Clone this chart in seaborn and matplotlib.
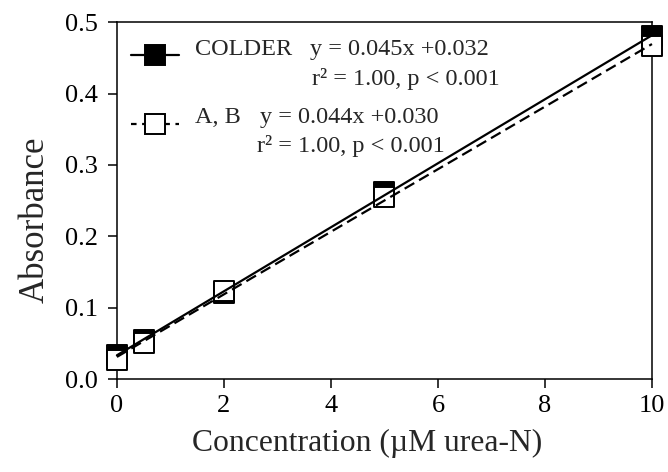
import numpy as np
import pandas as pd
import seaborn as sns
import matplotlib.pyplot as plt
from matplotlib.lines import Line2D

# data
conc = [0, 0.5, 2, 5, 10]
colder = [0.034, 0.055, 0.120, 0.262, 0.480]
ab = [0.027, 0.050, 0.124, 0.255, 0.466]
series_names = ["COLDER", "A, B"]
equations = ["y = 0.045x +0.032", "y = 0.044x +0.030"]
stats_text = "r\u00b2 = 1.00, p < 0.001"
xticks = [0, 2, 4, 6, 8, 10]
yticks = [0.0, 0.1, 0.2, 0.3, 0.4, 0.5]

sns.set_style("ticks")
plt.rcParams["font.family"] = ["Liberation Serif", "DejaVu Serif"]

fig = plt.figure(figsize=(6.68, 4.72), dpi=100)
ax = fig.add_axes([0.175, 0.197, 0.801, 0.756])

df = pd.DataFrame({"conc": conc, "colder": colder, "ab": ab})

sns.scatterplot(data=df, x="conc", y="colder", marker="s", s=225, color="black",
                edgecolor="black", linewidth=1.4, clip_on=False, zorder=3, ax=ax)
sns.scatterplot(data=df, x="conc", y="ab", marker="s", s=225, color="white",
                edgecolor="black", linewidth=1.4, clip_on=False, zorder=4, ax=ax)

sns.regplot(data=df, x="conc", y="colder", scatter=False, ci=None, color="black",
            line_kws=dict(lw=1.6, zorder=5, clip_on=False), ax=ax)
sns.regplot(data=df, x="conc", y="ab", scatter=False, ci=None, color="black",
            line_kws=dict(lw=1.6, ls=(0, (5, 2.5)), zorder=5, clip_on=False), ax=ax)

ax.set_xlim(0, 10)
ax.set_ylim(0, 0.5)
ax.set_xticks(xticks)
ax.set_xticklabels([str(t) for t in xticks])
ax.set_yticks(yticks)
ax.set_yticklabels([f"{t:.1f}" for t in yticks])
ax.tick_params(axis="both", direction="out", length=6.5, width=1.1, labelsize=19,
               colors="black", top=False, right=False)
ax.tick_params(axis="y", pad=7)
ax.tick_params(axis="x", pad=5)
for sp in ax.spines.values():
    sp.set_visible(True)
    sp.set_linewidth(1.1)
    sp.set_color("black")

ax.set_xlabel("Concentration (\u00b5M urea-N)", fontsize=22.8, labelpad=8.5)
ax.set_ylabel("Absorbance", fontsize=25, labelpad=10)
ax.xaxis.label.set_x(0.468)
ax.yaxis.label.set_y(0.445)

# legend: handles only, names written as text beside them
handles = [
    Line2D([], [], color="black", lw=1.6, marker="s", markersize=15,
           markerfacecolor="black", markeredgecolor="black", markeredgewidth=1.4),
    Line2D([], [], color="black", lw=1.6, ls=(0, (2.5, 2.5)), marker="s", markersize=15,
           markerfacecolor="white", markeredgecolor="black", markeredgewidth=1.4),
]
ax.legend(handles, ["", ""], loc="upper left", bbox_to_anchor=(0.026, 0.933),
          frameon=False, fontsize=17.5, handlelength=2.0, handletextpad=0.65,
          labelspacing=1.94, borderpad=0, borderaxespad=0)

txt = dict(transform=ax.transAxes, fontsize=17.5, va="baseline")
ax.text(0.146, 0.908, series_names[0], **txt)
ax.text(0.361, 0.908, equations[0], **txt)
ax.text(0.364, 0.824, stats_text, **txt)
ax.text(0.146, 0.717, series_names[1], **txt)
ax.text(0.267, 0.717, equations[1], **txt)
ax.text(0.262, 0.636, stats_text, **txt)

fig.savefig("out.png", dpi=100)
